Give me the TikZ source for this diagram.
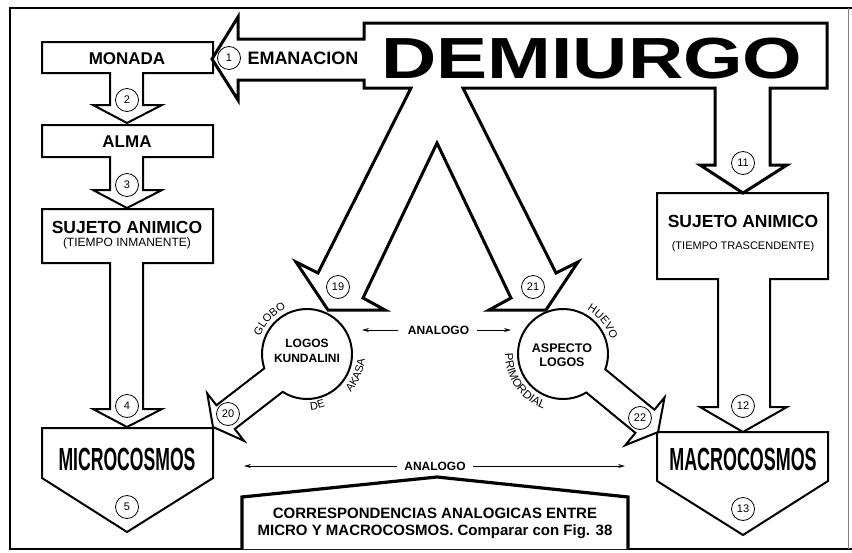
\documentclass[tikz,border=0pt]{standalone}
\usepackage{fontspec}
\setmainfont{Liberation Sans}
\usetikzlibrary{arrows.meta,calc,decorations.text}
\newcommand\fsz[1]{\fontsize{#1}{#1}\selectfont}
\begin{document}
\begin{tikzpicture}[x=1pt,y=-1pt,
  heavy/.style={line width=3pt, line join=miter, fill=white},
  boxline/.style={line width=2pt, line join=miter, fill=white},
  num/.style={circle, draw, line width=0.8pt, minimum size=23pt, inner sep=0pt, font=\fsz{11}, fill=white},
  lbl/.style={anchor=base, inner sep=0pt},
  thinarrow/.style={line width=0.8pt, -{Stealth[length=7pt,width=4pt]}},
  arctext/.style={decorate, decoration={text along path, text align=center, text={#1}}}
]
\useasboundingbox (0,0) rectangle (852,552);

% frame
\draw[line width=2.6pt] (852,8) -- (10,8) -- (10,549) -- (852,549);
\draw[line width=0.8pt, gray] (848,8) -- (848,549);

% left column
\draw[boxline] (42,42) -- (213,42) -- (213,73) -- (143,73) -- (143,105) -- (162,105) -- (127,123) -- (93,105) -- (110,105) -- (110,73) -- (42,73) -- cycle;
\draw[boxline] (42,125) -- (213,125) -- (213,157) -- (143,157) -- (143,190) -- (162,190) -- (127,208) -- (93,190) -- (110,190) -- (110,157) -- (42,157) -- cycle;
\draw[boxline] (42,209) -- (213,209) -- (213,263) -- (143,263) -- (143,409) -- (162,409) -- (127,427) -- (93,409) -- (110,409) -- (110,263) -- (42,263) -- cycle;
\draw[boxline] (42,428) -- (213,428) -- (213,478) -- (127,532) -- (42,478) -- cycle;

% right column
\draw[boxline] (657,193) -- (828,193) -- (828,279) -- (770,279) -- (770,407) -- (787,407) -- (743,432) -- (700,407) -- (718,407) -- (718,279) -- (657,279) -- cycle;
\draw[boxline] (657,432) -- (828,432) -- (828,481) -- (743,535) -- (657,481) -- cycle;

% caption house
\draw[line width=3.2pt, line join=miter, fill=white] (242,549) -- (242,497) -- (437,477) -- (628,497) -- (628,549);

% logos circles
\coordinate (KC) at (307,354);
\coordinate (AC) at (563,354);
\draw[boxline] ($(KC)+(161.47:45)$) arc[start angle=161.47, end angle=482.73, radius=45]
  -- ($(KC)+(142.2:103)+(52.2:15)$) -- ($(KC)+(142.2:103)+(52.2:30)$)
  -- ($(KC)+(142.2:119)$)
  -- ($(KC)+(142.2:103)+(232.2:30)$) -- ($(KC)+(142.2:103)+(232.2:15)$) -- cycle;
\draw[boxline] ($(AC)+(58.87:45)$) arc[start angle=58.87, end angle=379.93, radius=45]
  -- ($(AC)+(39.4:106)+(-50.6:15)$) -- ($(AC)+(39.4:106)+(-50.6:31)$)
  -- ($(AC)+(39.4:123)$)
  -- ($(AC)+(39.4:106)+(129.4:31)$) -- ($(AC)+(39.4:106)+(129.4:15)$) -- cycle;

% demiurgo shape
\draw[heavy] (364,23) -- (827,23) -- (827,88) -- (770,88) -- (770,165) -- (787,165) -- (743,193) -- (700,165) -- (715,165) -- (715,88)
  -- (463,88) -- (556,273) -- (578,262) -- (546,310) -- (489,310) -- (511,298) -- (437,143)
  -- (363,298) -- (385,310) -- (328,310) -- (296,262) -- (318,273) -- (411,88)
  -- (364,88) -- (364,80) -- (238,80) -- (238,100) -- (212,59) -- (238,17) -- (238,39) -- (364,39) -- cycle;

% texts
\node[lbl] (demiurgo) at (592,78.5) {\scalebox{1.32}[1]{\fsz{58}\bfseries DEMIURGO}};
\node[lbl] (emanacion) at (303,64.5) {\fsz{18}\bfseries EMANACION};
\node[lbl] (monada) at (127,64) {\fsz{17}\bfseries MONADA};
\node[lbl] (alma) at (127,147) {\fsz{17}\bfseries ALMA};
\node[lbl] (sujL) at (127,233) {\fsz{17.5}\bfseries SUJETO ANIMICO};
\node[lbl] (tiempoL) at (127,246.5) {\fsz{12}(TIEMPO INMANENTE)};
\node[lbl] (micro) at (127,470) {\scalebox{0.55}[1]{\fsz{32}\bfseries MICROCOSMOS}};
\node[lbl] (sujR) at (743,227) {\fsz{17.5}\bfseries SUJETO ANIMICO};
\node[lbl] (tiempoR) at (743,249) {\fsz{11}(TIEMPO TRASCENDENTE)};
\node[lbl] (macro) at (743,470) {\scalebox{0.56}[1]{\fsz{32}\bfseries MACROCOSMOS}};
\node[lbl] (logos1) at (307,347) {\fsz{12}\bfseries LOGOS};
\node[lbl] (kund) at (307,362) {\fsz{12}\bfseries KUNDALINI};
\node[lbl] (aspecto) at (562,352) {\fsz{12.5}\bfseries ASPECTO};
\node[lbl] (logos2) at (562,366) {\fsz{12.5}\bfseries LOGOS};
\node[lbl] (cap1) at (435,518.5) {\fsz{15}\bfseries CORRESPONDENCIAS ANALOGICAS ENTRE};
\node[lbl] (cap2) at (435,535.5) {\fsz{15}\bfseries MICRO Y MACROCOSMOS. Comparar con Fig. 38};

% analogo arrows
\node[lbl] (ana1) at (438.5,334.3) {\fsz{12}\bfseries ANALOGO};
\node[lbl] (ana2) at (435,470.3) {\fsz{12}\bfseries ANALOGO};
\coordinate (a1l) at (398,330); \coordinate (a1L) at (362,330);
\coordinate (a1r) at (477,330); \coordinate (a1R) at (511,330);
\coordinate (a2l) at (397,466); \coordinate (a2L) at (244,466);
\coordinate (a2r) at (473,466); \coordinate (a2R) at (625,466);
\draw[thinarrow] (a1l) -- (a1L);
\draw[thinarrow] (a1r) -- (a1R);
\draw[thinarrow] (a2l) -- (a2L);
\draw[thinarrow] (a2r) -- (a2R);

% arc texts
\path[arctext={|\fsz{11}|GLOBO}] ($(KC)+(195:50)$) arc[start angle=195, end angle=251, radius=50];
\path[arctext={|\fsz{11}|DE}] ($(KC)+(95:56)$) arc[start angle=95, end angle=62, radius=56];
\path[arctext={|\fsz{11}|AKASA}] ($(KC)+(50:58)$) arc[start angle=50, end angle=-4, radius=58];
\path[arctext={|\fsz{11}|HUEVO}] ($(AC)+(294:50)$) arc[start angle=294, end angle=348, radius=50];
\path[arctext={|\fsz{11.5}|PRIMORDIAL}] ($(AC)+(192:58)$) arc[start angle=192, end angle=98, radius=58];

% numbers
\node[num] (n1) at (229,58) {1};
\node[num] (n2) at (127,100) {2};
\node[num] (n3) at (127,185) {3};
\node[num] (n4) at (127,406) {4};
\node[num] (n5) at (127,507) {5};
\node[num] (n11) at (743,163) {11};
\node[num] (n12) at (743,406) {12};
\node[num] (n13) at (743,509) {13};
\node[num] (n19) at (338,287) {19};
\node[num] (n21) at (533,287) {21};
\node[num] (n20) at (228,414) {20};
\node[num] (n22) at (640,418) {22};
\end{tikzpicture}
\end{document}
